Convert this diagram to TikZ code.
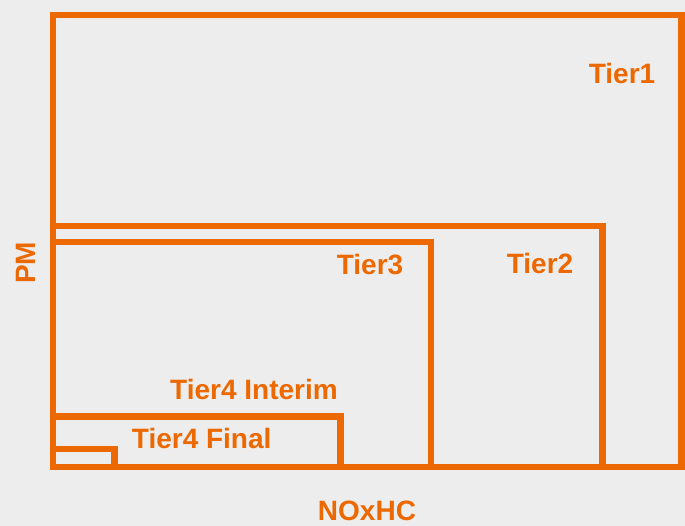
\documentclass[tikz,border=0pt]{standalone}
\usepackage{fontspec}
\setmainfont{Liberation Sans}
\definecolor{tierorange}{RGB}{236,104,0}
\definecolor{bggray}{RGB}{237,237,237}
\begin{document}
\begin{tikzpicture}[x=1pt,y=-1pt,
  tierbox/.style={draw=tierorange,line width=6.5pt,line join=miter},
  tierlabel/.style={text=tierorange,font=\fontsize{28}{33}\selectfont\bfseries,inner sep=0pt,anchor=base}]
\fill[bggray] (0,0) rectangle (685,526);
\useasboundingbox (0,0) rectangle (685,526);
\draw[tierbox] (53,15) rectangle (681.5,467);
\draw[tierbox] (53,226) rectangle (602.7,467);
\draw[tierbox] (53,242) rectangle (431,467);
\draw[tierbox] (53,416.7) rectangle (340.3,467);
\draw[tierbox] (53,449) rectangle (114.7,467);
\node[tierlabel] (t1) at (622,84) {Tier1};
\node[tierlabel] (t2) at (540,274) {Tier2};
\node[tierlabel] (t3) at (370,275) {Tier3};
\node[tierlabel] (t4i) at (254,399.5) {Tier4 Interim};
\node[tierlabel] (t4f) at (201.7,448.3) {Tier4 Final};
\node[tierlabel] (nox) at (367,520) {NOxHC};
\node[tierlabel,rotate=90] (pm) at (35.5,263) {PM};
\end{tikzpicture}
\end{document}
